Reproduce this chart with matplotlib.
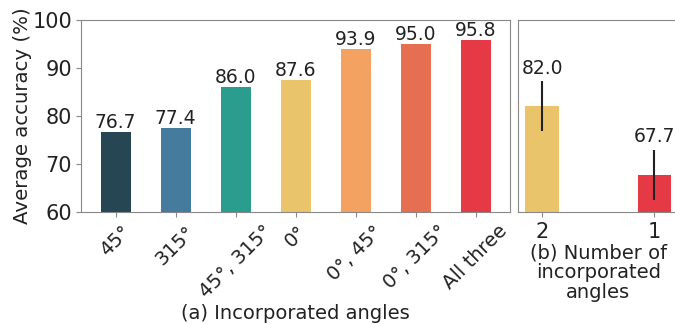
import matplotlib as mpl
mpl.use("Agg")

import matplotlib.pyplot as plt  # noqa
import numpy as np  # noqa

# accuracy per set of incorporated angles
angle_sets = ['45°', '315°', '45°, 315°', '0°', '0°, 45°', '0°, 315°', 'All three']
angle_acc = [76.7, 77.4, 86.0, 87.6, 93.9, 95.0, 95.8]
angle_colors = ['#264653', '#457b9d', '#2a9d8f', '#e9c46a', '#f4a261', '#e76f51', '#e63946']

# accuracy by number of incorporated angles
num_labels = ['2', '1']
num_acc = [82.0, 67.7]
num_err = [5.2, 5.3]
num_colors = ['#e9c46a', '#e63946']

plt.rcParams['font.size'] = 14
plt.rcParams['ytick.labelsize'] = 15
plt.rcParams['axes.edgecolor'] = '#888888'
plt.rcParams['xtick.color'] = '#888888'
plt.rcParams['ytick.color'] = '#888888'
plt.rcParams['xtick.labelcolor'] = '#222222'
plt.rcParams['ytick.labelcolor'] = '#222222'
plt.rcParams['text.color'] = '#222222'
plt.rcParams['axes.labelcolor'] = '#222222'

fig = plt.figure(figsize=(6.75, 3.24), dpi=100)
ax1 = fig.add_axes([0.12, 0.3457, 0.6356, 0.5926])
ax2 = fig.add_axes([0.7674, 0.3457, 0.238, 0.5926])

# (a) left panel
x1 = np.arange(len(angle_sets))
ax1.bar(x1, angle_acc, 0.5, color=angle_colors)
for xi, v in zip(x1, angle_acc):
  ax1.text(xi, v, '%.1f' % v, ha='center', va='bottom', fontsize=13.5)
ax1.set_ylim(60, 100)
ax1.set_yticks([60, 70, 80, 90, 100])
ax1.tick_params(axis='y', pad=3)
ax1.set_xticks(x1)
ax1.set_xticklabels(angle_sets, rotation=45)
ax1.set_ylabel('Average accuracy (%)', fontsize=14.2, labelpad=0)
ax1.set_xlabel('(a) Incorporated angles', labelpad=2)

# (b) right panel
x2 = np.arange(len(num_labels))
ax2.bar(x2, num_acc, 0.3, color=num_colors, yerr=num_err, ecolor='#222222',
        error_kw=dict(lw=1.5))
for xi, v, e in zip(x2, num_acc, num_err):
  ax2.text(xi, v + e + 0.8, '%.1f' % v, ha='center', va='bottom', fontsize=13.5)
ax2.set_ylim(60, 100)
ax2.set_yticks([])
ax2.set_xticks(x2)
ax2.set_xticklabels(num_labels, fontsize=15)
ax2.set_xlabel('(b) Number of\nincorporated\nangles', labelpad=1, linespacing=1.05)

plt.savefig('out.png', dpi=100)
